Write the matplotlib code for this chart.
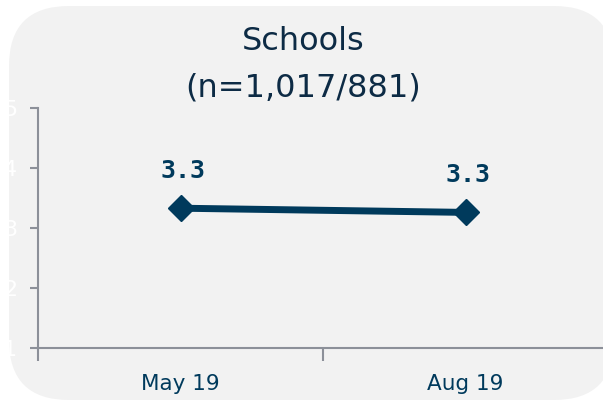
import matplotlib.pyplot as plt
from matplotlib.patches import FancyBboxPatch

# data
periods = ["May 19", "Aug 19"]
scores = [3.33, 3.26]
labels = ["3.3", "3.3"]
title_lines = ["Schools", "(n=1,017/881)"]

navy = "#003a5c"
grey = "#8c9099"

fig = plt.figure(figsize=(6.03, 4.01), dpi=100)
fig.patch.set_facecolor("white")

# rounded panel background
bg = FancyBboxPatch((0.09, 0.01), 6.05, 3.94, boxstyle="round,pad=0,rounding_size=0.6",
                    transform=fig.dpi_scale_trans, facecolor="#f2f2f2", edgecolor="none", zorder=-5)
fig.patches.append(bg)

ax = fig.add_axes([38 / 603, 53 / 401, 570 / 603, 240 / 401], zorder=2)
ax.set_facecolor("none")

x = [0.5, 1.5]
ax.plot(x, scores, color=navy, lw=5, marker="D", markersize=13, solid_capstyle="round", zorder=3,
        clip_on=False)
for xi, yi, lab in zip(x, scores, labels):
    ax.annotate(lab, (xi, yi), xytext=(2, 27), textcoords="offset points", ha="center", va="center",
                fontsize=18, fontweight="bold", color=navy, family="DejaVu Sans Mono")

ax.set_xlim(0, 2)
ax.set_ylim(1, 5)
ax.set_yticks([1, 2, 3, 4, 5])
ax.set_xticks([0, 1, 2])
ax.set_xticks(x, minor=True)
ax.set_xticklabels([])
ax.set_xticklabels(periods, minor=True)
ax.tick_params(axis="x", which="major", length=9, width=1.5, color=grey, direction="out")
ax.tick_params(axis="x", which="minor", length=0, pad=19, labelsize=15.5, labelcolor=navy)
ax.tick_params(axis="y", length=6, width=1.5, color=grey, labelcolor="white", labelsize=16, pad=9)

for s in ["top", "right"]:
    ax.spines[s].set_visible(False)
for s in ["left", "bottom"]:
    ax.spines[s].set_color(grey)
    ax.spines[s].set_linewidth(1.5)

fig.text(303 / 603, 1 - 42 / 401, title_lines[0], ha="center", va="center", fontsize=23,
         color="#0d2b45", family="DejaVu Sans")
fig.text(303 / 603, 1 - 88 / 401, title_lines[1], ha="center", va="center", fontsize=23,
         color="#0d2b45", family="DejaVu Sans")

fig.savefig("out.png", dpi=100)
